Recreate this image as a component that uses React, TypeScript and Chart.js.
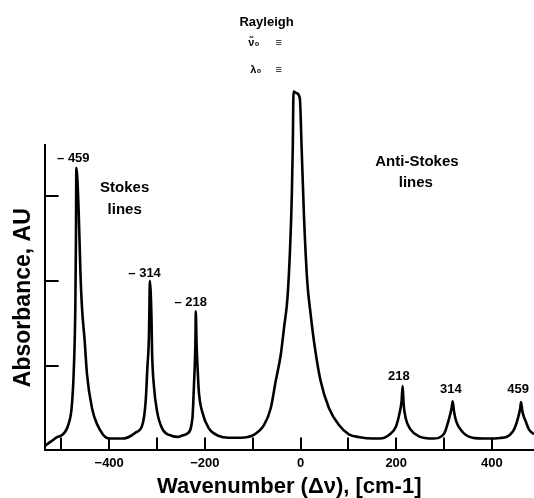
import React, { useEffect, useRef } from "react";
import { Chart, registerables } from "chart.js";

Chart.register(...registerables);

// Raman shift (cm-1)
const shiftValues = [
  -535, -528, -518, -508, -501.6, -492, -485, -478.5, -474.3, -470.8, -469.5, -468.6,
  -464, -460, -456.8, -451.2, -446.4, -436, -425.4, -401, -390, -370, -355, -345,
  -330.6, -323.7, -320.2, -316.8, -315.7, -315.3, -311.6, -310.4, -306.8, -299.9, -289.4, -268.5,
  -255, -245, -236.5, -226, -222.7, -220.6, -219.5, -219, -217.3, -215.2, -212.7, -205.8,
  -191.7, -170.8, -150, -125, -99, -76.2, -62.2, -51.8, -41.3, -34.4, -27.3, -21.8,
  -18.3, -16.2, -14.7, -8, -1.5, 2.2, 7.0, 13.9, 21.0, 30.0, 41.9, 59.3,
  80.2, 101.1, 124, 150, 166, 186.8, 199.3, 206.2, 211.2, 213.4, 215.6, 219.8,
  230.2, 247.6, 277.4, 300.3, 308.7, 315.8, 318, 320.8, 325.6, 338.2, 359.1, 390,
  416.9, 443.4, 452.4, 459.3, 460.9, 463.7, 470.8, 477.7, 488
];

// Absorbance (AU)
const absorbanceValues = [
  0.05, 0.08, 0.12, 0.16, 0.17, 0.22, 0.31, 0.5, 0.9, 1.68, 2.47, 3.33,
  2.86, 2.08, 1.68, 1.29, 0.9, 0.5, 0.31, 0.14, 0.14, 0.14, 0.17, 0.21,
  0.3, 0.58, 0.97, 1.37, 1.76, 2.0, 1.57, 1.17, 0.78, 0.46, 0.26, 0.17,
  0.16, 0.18, 0.2, 0.38, 0.78, 1.09, 1.37, 1.64, 1.25, 0.97, 0.7, 0.46,
  0.26, 0.17, 0.15, 0.15, 0.18, 0.3, 0.5, 0.82, 1.13, 1.45, 1.8, 2.39,
  2.99, 3.58, 4.23, 4.21, 4.15, 3.58, 2.79, 2.0, 1.61, 1.21, 0.82, 0.5,
  0.3, 0.19, 0.155, 0.14, 0.14, 0.19, 0.28, 0.42, 0.58, 0.76, 0.54, 0.38,
  0.245, 0.166, 0.14, 0.2, 0.34, 0.5, 0.58, 0.46, 0.34, 0.22, 0.15, 0.14,
  0.146, 0.22, 0.34, 0.5, 0.57, 0.46, 0.34, 0.245, 0.19
];

// Axis ticks
const xMin = -535;
const xMax = 488;
const yMin = 0;
const yMax = 3.6;
const xLabeledTicks = [-400, -200, 0, 200, 400];
const xTickText = ["\u2212400", "\u2212200", "0", "200", "400"];

// Text annotations (anchored in data units)
const annotationText = [
  "\u2013 459", "\u2013 314", "\u2013 218", "218", "314", "459",
  "Stokes", "lines", "Anti-Stokes", "lines",
  "Rayleigh", "\u03BD\u0303\u2080", "\u2261", "\u03BB\u2080", "\u2261"
];
const annotationX = [-475, -326, -229.5, 205.6, 314.4, 454.6, -367.6, -367.6, 243.3, 241, -71, -97.7, -45.4, -93.5, -45.4];
const annotationY = [3.44, 2.09, 1.74, 0.876, 0.72, 0.72, 3.09, 2.84, 3.4, 3.15, 5.04, 4.8, 4.8, 4.49, 4.49];
const annotationSize = [13, 13, 13, 13, 13, 13, 15, 15, 15, 15, 13, 11, 11, 11, 11];

const FONT = "'Liberation Sans', Arial, Helvetica, sans-serif";

const decorPlugin = {
  id: "decor",
  afterDraw(chart: any) {
    const { ctx, chartArea } = chart;
    const x = chart.scales.x;
    const y = chart.scales.y;
    ctx.save();
    ctx.strokeStyle = "#000";
    ctx.lineWidth = 2;
    x.ticks.forEach((t: any) => {
      if (Math.abs(t.value % 100) > 1e-6) return;
      const px = Math.round(x.getPixelForValue(t.value));
      ctx.beginPath();
      ctx.moveTo(px, chartArea.bottom);
      ctx.lineTo(px, chartArea.bottom - 13);
      ctx.stroke();
    });
    y.ticks.forEach((t: any) => {
      if (t.value === 0 || Math.abs(t.value % 1) > 1e-6) return;
      const py = Math.round(y.getPixelForValue(t.value));
      ctx.beginPath();
      ctx.moveTo(chartArea.left, py);
      ctx.lineTo(chartArea.left + 14, py);
      ctx.stroke();
    });
    ctx.fillStyle = "#000";
    ctx.textAlign = "center";
    ctx.textBaseline = "middle";
    annotationText.forEach((txt, i) => {
      ctx.font = `bold ${annotationSize[i]}px ${FONT}`;
      ctx.fillText(txt, x.getPixelForValue(annotationX[i]), y.getPixelForValue(annotationY[i]));
    });
    ctx.restore();
  },
};

export default function App() {
  const canvasRef = useRef<HTMLCanvasElement | null>(null);

  useEffect(() => {
    if (!canvasRef.current) return;
    const points = shiftValues.map((v, i) => ({ x: v, y: absorbanceValues[i] }));
    const chart = new Chart(canvasRef.current, {
      type: "line",
      data: {
        datasets: [
          {
            data: points,
            borderColor: "#000",
            borderWidth: 2.6,
            pointRadius: 0,
            fill: false,
            cubicInterpolationMode: "monotone",
            clip: false as any,
          },
        ],
      },
      options: {
        responsive: false,
        animation: false,
        devicePixelRatio: 1,
        layout: { padding: { left: 10, top: 145, right: 0, bottom: 0 } },
        plugins: { legend: { display: false }, tooltip: { enabled: false } },
        scales: {
          x: {
            type: "linear",
            min: xMin,
            max: xMax,
            grid: { display: false, drawTicks: false },
            border: { display: true, color: "#000", width: 2 },
            ticks: {
              stepSize: 100,
              includeBounds: false,
              autoSkip: false,
              maxRotation: 0,
              padding: 5,
              color: "#000",
              font: { family: FONT, size: 13, weight: "bold" },
              callback: (v: any) => {
                const i = xLabeledTicks.indexOf(Number(v));
                return i >= 0 ? xTickText[i] : "";
              },
            },
            title: {
              display: true,
              text: "Wavenumber (\u0394\u03BD), [cm-1]",
              color: "#000",
              font: { family: FONT, size: 22, weight: "bold", lineHeight: 1 },
              padding: { top: 0, bottom: 0 },
            },
          },
          y: {
            type: "linear",
            min: yMin,
            max: yMax,
            grid: { display: false, drawTicks: false },
            border: { display: true, color: "#000", width: 2 },
            ticks: { display: false, stepSize: 1 },
            title: {
              display: true,
              text: "Absorbance, AU",
              color: "#000",
              font: { family: FONT, size: 23, weight: "bold" },
              padding: { top: 0, bottom: 7 },
            },
          },
        },
      },
      plugins: [decorPlugin],
    });
    return () => chart.destroy();
  }, []);

  return (
    <div style={{ position: "fixed", left: 0, top: 0, width: 534, height: 498, background: "#fff" }}>
      <canvas ref={canvasRef} width={534} height={498} style={{ display: "block" }} />
    </div>
  );
}
